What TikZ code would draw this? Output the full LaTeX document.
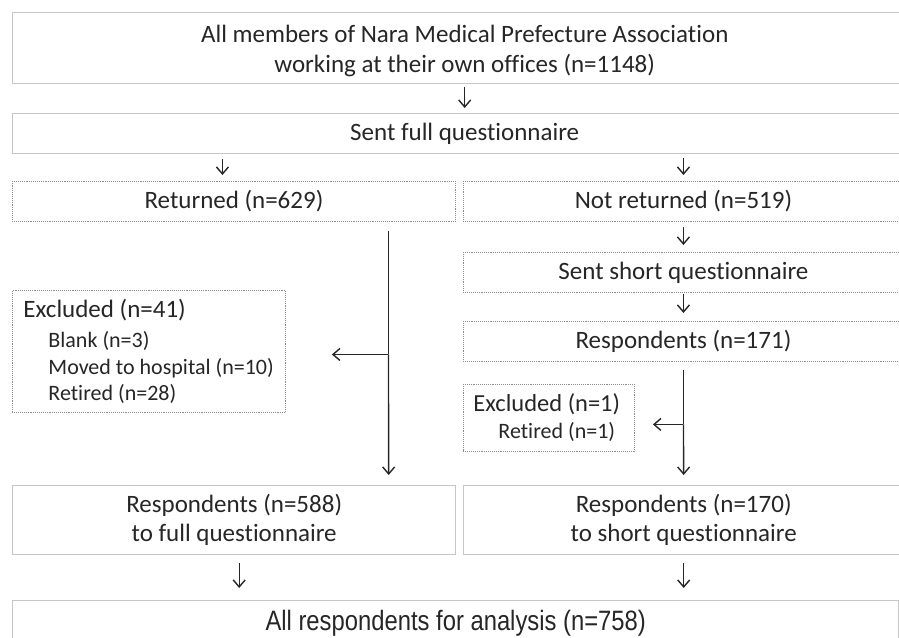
\documentclass[tikz,border=0pt]{standalone}
\usepackage{fontspec}
\setmainfont{Carlito}[Ligatures=NoCommon]
\newfontfamily\arialfont{Liberation Sans}[FakeStretch=0.85]
\usetikzlibrary{arrows.meta}
\definecolor{solidgray}{RGB}{198,198,198}
\definecolor{dotgray}{RGB}{140,140,140}
\definecolor{inkgray}{RGB}{38,38,38}
\newcommand{\bigtxt}{\fontsize{25}{30}\selectfont}
\newcommand{\twotxt}{\fontsize{25}{29}\selectfont}
\newcommand{\midtxt}{\fontsize{25}{28}\selectfont}
\newcommand{\subtxt}{\fontsize{22}{26.3}\selectfont}
\begin{document}
\begin{tikzpicture}[x=1pt,y=-1pt,
    solidbox/.style={draw=solidgray,line width=1.4pt,inner sep=0pt,text=inkgray,align=center,anchor=north west},
    dotbox/.style={draw=dotgray,line width=0.9pt,densely dotted,inner sep=0pt,text=inkgray,align=center,anchor=north west},
    link/.style={draw=inkgray,line width=1.4pt},
    arr/.style={link,-{Straight Barb[length=7pt,width=12pt]}}]

\useasboundingbox (0,0) rectangle (899,637);
\clip (0,0) rectangle (899,637);

% first row
\node[solidbox,minimum width=904,minimum height=71,font=\bigtxt] (members) at (12,12)
  {\rule{0pt}{22pt}All members of Nara Medical Prefecture Association\\working at their own offices (n=1148)};
\node[solidbox,minimum width=904,minimum height=40,font=\midtxt] (sentfull) at (12,113) {Sent full questionnaire};
\draw[arr,shorten <=3pt,shorten >=5pt] (members) -- (sentfull);

% left branch
\node[dotbox,minimum width=443,minimum height=40,font=\midtxt] (returned) at (12,181) {Returned (n=629)};
\node[dotbox,minimum width=273,minimum height=122,align=flush left,text width=251pt,font=\subtxt] (excl41) at (12,290)
  {\vspace*{9pt}{\fontsize{25}{26.3}\selectfont Excluded (n=41)}\\[-5pt]
   \hspace*{25pt}Blank (n=3)\\
   \hspace*{25pt}Moved to hospital (n=10)\\
   \hspace*{25pt}Retired (n=28)};
\node[solidbox,minimum width=443,minimum height=69,font=\twotxt] (resp588) at (12,485)
  {Respondents (n=588)\\to full questionnaire};

% right branch
\node[dotbox,minimum width=440,minimum height=40,font=\midtxt] (notret) at (463,181) {Not returned (n=519)};
\node[dotbox,minimum width=440,minimum height=40,font=\midtxt] (sentshort) at (463,252) {Sent short questionnaire};
\node[dotbox,minimum width=440,minimum height=40,font=\midtxt] (resp171) at (463,321) {Respondents (n=171)};
\node[dotbox,minimum width=171,minimum height=67,align=flush left,text width=151pt,font=\fontsize{22}{27}\selectfont] (excl1) at (463,384)
  {{\fontsize{24.5}{27}\selectfont Excluded (n=1)}\\
   \hspace*{25pt}Retired (n=1)};
\node[solidbox,minimum width=440,minimum height=69,font=\twotxt] (resp170) at (463,485)
  {Respondents (n=170)\\to short questionnaire};

% last row
\node[solidbox,minimum width=886,minimum height=46,font=\arialfont\fontsize{28}{30}\selectfont] (analysis) at (12,600)
  {All respondents for analysis (n=758)};

% arrows
\draw[arr,shorten <=5pt,shorten >=6pt] ([xshift=-11.5pt]returned.north |- sentfull.south) -- ([xshift=-11.5pt]returned.north);
\draw[arr,shorten <=4pt,shorten >=6pt] (notret.north |- sentfull.south) -- (notret.north);
\draw[arr,shorten <=5pt,shorten >=7pt] (notret) -- (sentshort);
\draw[arr,shorten <=1pt,shorten >=8pt] (sentshort) -- (resp171);

% exclusions
\coordinate (e41) at ([yshift=-3pt]excl41.east);
\draw[link] ([xshift=154.5pt,yshift=-9pt]returned.south) -- ([xshift=154.5pt]returned.south |- e41) coordinate (jl);
\draw[arr,shorten >=10pt] (jl) -- ([xshift=154.5pt]resp588.north);
\draw[arr,shorten >=46pt] (jl) -- (e41);

\coordinate (e1) at ([yshift=-6.5pt]excl1.east);
\draw[link] ([yshift=-8pt]resp171.south) -- (resp171.south |- e1) coordinate (jr);
\draw[arr,shorten >=10pt] (jr) -- (resp170.north);
\draw[arr,shorten >=18pt] (jr) -- (e1);

\draw[arr,shorten <=8pt,shorten >=12pt] ([xshift=5pt]resp588.south) -- ([xshift=5pt]resp588.south |- analysis.north);
\draw[arr,shorten <=8pt,shorten >=12pt] (resp170.south) -- (resp170.south |- analysis.north);

\end{tikzpicture}
\end{document}
